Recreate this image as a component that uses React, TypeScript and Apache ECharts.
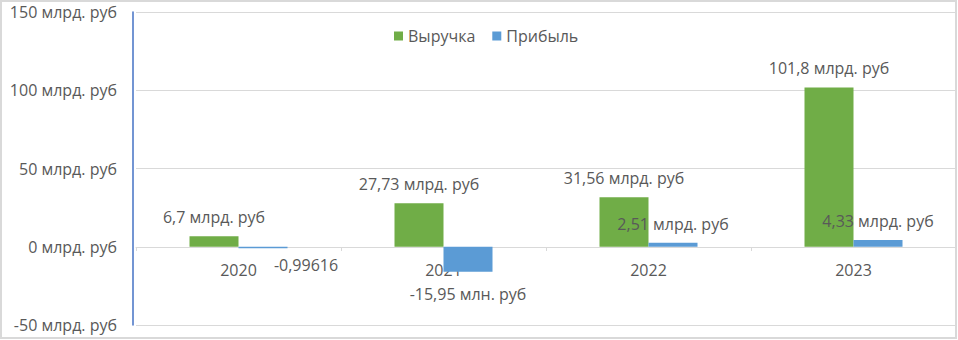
import React, { useEffect, useRef } from "react";
import * as echarts from "echarts";

const categories = ["2020", "2021", "2022", "2023"];
const revenue = [6.7, 27.73, 31.56, 101.8];
const profit = [-0.99616, -15.95, 2.51, 4.33];
const revenueLabels = ["6,7 млрд. руб", "27,73 млрд. руб", "31,56 млрд. руб", "101,8 млрд. руб"];
const profitLabels = ["-0,99616", "-15,95 млн. руб", "2,51 млрд. руб", "4,33 млрд. руб"];
const yTicks = [-50, 0, 50, 100, 150];
const seriesNames = ["Выручка", "Прибыль"];

const FONT = "'Open Sans', 'Noto Sans', sans-serif";
const TEXT = "#595959";
const FS = 16;

export default function App() {
  const ref = useRef<HTMLDivElement>(null);
  useEffect(() => {
    if (!ref.current) return;
    const chart = echarts.init(ref.current, null, { renderer: "svg" });
    const labelStyle = { color: TEXT, fontFamily: FONT, fontSize: FS };
    chart.setOption({
      animation: false,
      backgroundColor: "#ffffff",
      textStyle: { fontFamily: FONT },
      graphic: [
        {
          type: "rect",
          shape: { x: 1, y: 1, width: 955, height: 337 },
          style: { fill: "none", stroke: "#d9d9d9", lineWidth: 2 },
          silent: true,
          z: -1,
        },
      ],
      legend: {
        data: seriesNames,
        left: 389,
        top: 23,
        icon: "rect",
        itemWidth: 9,
        itemHeight: 9,
        itemGap: 17,
        textStyle: { color: TEXT, fontFamily: FONT, fontSize: FS },
      },
      grid: {
        left: 136,
        right: 2,
        top: 12,
        bottom: 15,
        containLabel: false,
        outerBoundsMode: "none",
      },
      xAxis: {
        type: "category",
        data: categories,
        position: "bottom",
        offset: -78,
        axisLine: { onZero: false, lineStyle: { color: "#d9d9d9", width: 1 } },
        axisTick: { show: true, alignWithLabel: false, length: 4, lineStyle: { color: "#d9d9d9" } },
        axisLabel: { color: TEXT, fontFamily: FONT, fontSize: FS, margin: 15 },
        splitLine: { show: false },
      },
      yAxis: {
        type: "value",
        min: yTicks[0],
        max: yTicks[yTicks.length - 1],
        interval: 50,
        offset: 3,
        axisLine: { show: true, lineStyle: { color: "#4472c4", width: 1.5 } },
        axisTick: { show: false },
        axisLabel: {
          color: TEXT,
          fontFamily: FONT,
          fontSize: FS,
          margin: 16,
          formatter: (v: number) => `${v} млрд. руб`,
        },
        splitLine: { show: true, lineStyle: { color: "#d9d9d9", width: 1 } },
      },
      series: [
        {
          name: seriesNames[0],
          type: "bar",
          barWidth: 49,
          barGap: "0%",
          itemStyle: { color: "#70ad47" },
          data: revenue.map((v, i) => ({
            value: v,
            label: {
              show: true,
              position: "top",
              distance: 11,
              formatter: revenueLabels[i],
              ...labelStyle,
            },
          })),
        },
        {
          name: seriesNames[1],
          type: "bar",
          barWidth: 49,
          itemStyle: { color: "#5b9bd5" },
          data: profit.map((v, i) => ({
            value: v,
            label: {
              show: true,
              position: v < 0 ? "bottom" : "top",
              distance: i === 0 ? 9 : v < 0 ? 14 : 11,
              offset: i === 0 ? [43, 0] : [0, 0],
              formatter: profitLabels[i],
              ...labelStyle,
            },
          })),
        },
      ],
    });
    return () => chart.dispose();
  }, []);
  return (
    <div
      ref={ref}
      style={{ position: "absolute", left: 0, top: 0, width: 958, height: 340 }}
    />
  );
}
